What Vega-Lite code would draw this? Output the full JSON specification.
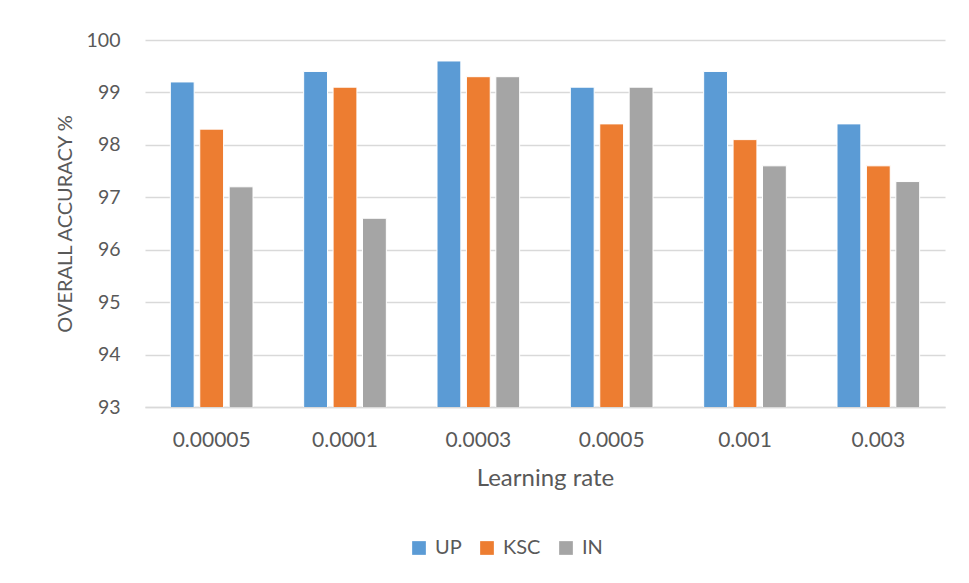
{
  "$schema": "https://vega.github.io/schema/vega-lite/v6.json",
  "width": 800,
  "height": 367,
  "autosize": {"type": "none"},
  "padding": {"left": 145, "top": 40, "right": 24, "bottom": 176},
  "background": "#ffffff",
  "config": {
    "font": "Lato",
    "view": {"stroke": null},
    "axis": {
      "labelColor": "#595959",
      "titleColor": "#595959",
      "titleFontWeight": "normal",
      "labelFont": "Lato",
      "titleFont": "Lato"
    },
    "legend": {"labelFont": "Lato", "labelColor": "#595959"}
  },
  "data": {
    "values": [
      {"rate": "0.00005", "dataset": "UP", "accuracy": 99.2},
      {"rate": "0.00005", "dataset": "KSC", "accuracy": 98.3},
      {"rate": "0.00005", "dataset": "IN", "accuracy": 97.2},
      {"rate": "0.0001", "dataset": "UP", "accuracy": 99.4},
      {"rate": "0.0001", "dataset": "KSC", "accuracy": 99.1},
      {"rate": "0.0001", "dataset": "IN", "accuracy": 96.6},
      {"rate": "0.0003", "dataset": "UP", "accuracy": 99.6},
      {"rate": "0.0003", "dataset": "KSC", "accuracy": 99.3},
      {"rate": "0.0003", "dataset": "IN", "accuracy": 99.3},
      {"rate": "0.0005", "dataset": "UP", "accuracy": 99.1},
      {"rate": "0.0005", "dataset": "KSC", "accuracy": 98.4},
      {"rate": "0.0005", "dataset": "IN", "accuracy": 99.1},
      {"rate": "0.001", "dataset": "UP", "accuracy": 99.4},
      {"rate": "0.001", "dataset": "KSC", "accuracy": 98.1},
      {"rate": "0.001", "dataset": "IN", "accuracy": 97.6},
      {"rate": "0.003", "dataset": "UP", "accuracy": 98.4},
      {"rate": "0.003", "dataset": "KSC", "accuracy": 97.6},
      {"rate": "0.003", "dataset": "IN", "accuracy": 97.3}
    ]
  },
  "mark": {"type": "bar", "stroke": "#ffffff", "strokeWidth": 1, "clip": true},
  "encoding": {
    "x": {
      "field": "rate",
      "type": "nominal",
      "sort": ["0.00005", "0.0001", "0.0003", "0.0005", "0.001", "0.003"],
      "scale": {"paddingInner": 0.38, "paddingOuter": 0.19},
      "axis": {
        "title": "Learning rate",
        "titleFontSize": 24,
        "titlePadding": 16,
        "labelFontSize": 21,
        "labelAngle": 0,
        "labelPadding": 22,
        "ticks": false,
        "tickSize": 0,
        "domainColor": "#D9D9D9",
        "domainWidth": 1.5,
        "grid": false
      }
    },
    "xOffset": {
      "field": "dataset",
      "type": "nominal",
      "sort": ["UP", "KSC", "IN"],
      "scale": {"paddingInner": 0.19, "paddingOuter": 0}
    },
    "y": {
      "field": "accuracy",
      "type": "quantitative",
      "scale": {"domain": [93, 100], "zero": false, "nice": false},
      "axis": {
        "title": "OVERALL ACCURACY %",
        "titleFontSize": 20,
        "titlePadding": 11,
        "labelFontSize": 19.5,
        "labelPadding": 25,
        "values": [93, 94, 95, 96, 97, 98, 99, 100],
        "ticks": false,
        "tickSize": 0,
        "domain": false,
        "grid": true,
        "gridColor": "#D9D9D9",
        "gridWidth": 1.5
      }
    },
    "color": {
      "field": "dataset",
      "type": "nominal",
      "scale": {"domain": ["UP", "KSC", "IN"], "range": ["#5B9BD5", "#ED7D31", "#A5A5A5"]},
      "legend": {
        "title": null,
        "orient": "none",
        "direction": "horizontal",
        "legendX": 264,
        "legendY": 498,
        "symbolType": "square",
        "symbolSize": 188,
        "symbolStrokeWidth": 0,
        "labelFontSize": 20,
        "labelOffset": 6,
        "columnPadding": 15,
        "padding": 0
      }
    }
  }
}
